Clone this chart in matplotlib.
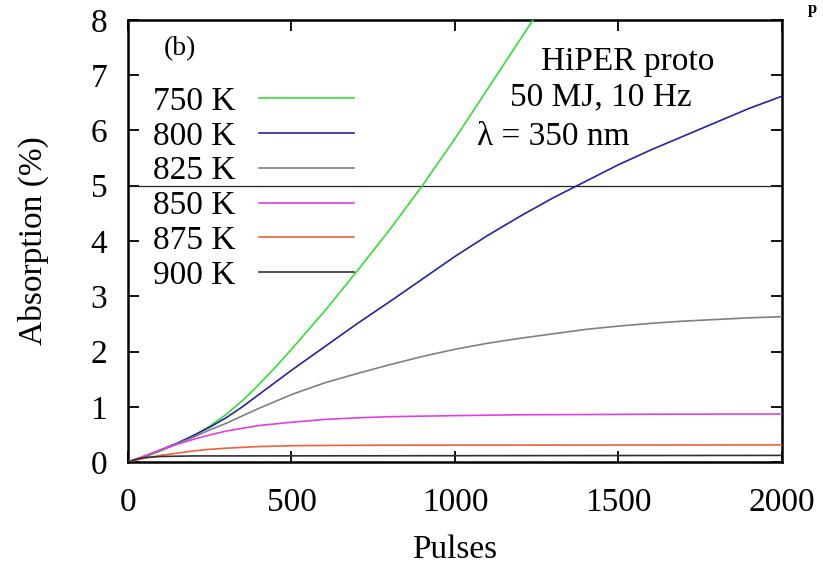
import matplotlib
matplotlib.use("Agg")
import matplotlib.pyplot as plt

plt.rcParams['font.family'] = ['Liberation Serif', 'DejaVu Serif']

# ---- data (pulses vs absorption %) ----
x_750 = [0, 50, 100, 150, 200, 250, 300, 350, 400, 450, 500, 600, 700, 800,
         900, 1000, 1100, 1200, 1250]
y_750 = [0, 0.09, 0.2, 0.33, 0.47, 0.65, 0.86, 1.11, 1.4, 1.71, 2.04, 2.72,
         3.45, 4.2, 5.0, 5.85, 6.75, 7.65, 8.1]

x_800 = [0, 50, 100, 150, 200, 250, 300, 350, 400, 450, 500, 600, 700, 800,
         900, 1000, 1100, 1200, 1300, 1400, 1500, 1600, 1700, 1800, 1900, 2000]
y_800 = [0, 0.1, 0.22, 0.34, 0.48, 0.63, 0.8, 1.0, 1.22, 1.44, 1.66, 2.08,
         2.5, 2.9, 3.31, 3.72, 4.1, 4.45, 4.78, 5.08, 5.38, 5.65, 5.9, 6.15,
         6.4, 6.62]

x_825 = [0, 50, 100, 150, 200, 250, 300, 400, 500, 600, 700, 800, 900, 1000,
         1100, 1200, 1300, 1400, 1500, 1600, 1700, 1800, 1900, 2000]
y_825 = [0, 0.1, 0.21, 0.33, 0.45, 0.58, 0.7, 0.97, 1.22, 1.43, 1.6, 1.76,
         1.91, 2.04, 2.15, 2.24, 2.32, 2.4, 2.46, 2.51, 2.55, 2.58, 2.61, 2.63]

x_850 = [0, 50, 100, 150, 200, 250, 300, 400, 500, 600, 700, 800, 900,
         1000, 1200, 1400, 1600, 2000]
y_850 = [0, 0.11, 0.22, 0.32, 0.41, 0.49, 0.56, 0.66, 0.72, 0.77, 0.8, 0.82,
         0.83, 0.84, 0.855, 0.86, 0.865, 0.87]

x_875 = [0, 50, 100, 150, 200, 250, 300, 400, 500, 600, 800, 2000]
y_875 = [0, 0.07, 0.12, 0.16, 0.2, 0.23, 0.25, 0.28, 0.295, 0.3, 0.305, 0.31]

x_900 = [0, 25, 50, 100, 150, 200, 2000]
y_900 = [0, 0.05, 0.08, 0.1, 0.105, 0.11, 0.12]

labels = ["750 K", "800 K", "825 K", "850 K", "875 K", "900 K"]
colors = ["#33dd33", "#2424a0", "#808080", "#e040e0", "#ee6040", "#303030"]
series = [(x_750, y_750), (x_800, y_800), (x_825, y_825),
          (x_850, y_850), (x_875, y_875), (x_900, y_900)]

threshold = 5

fig = plt.figure(figsize=(8.23, 5.66), dpi=100)
ax = fig.add_axes([0.1555, 0.1837, 0.7945, 0.781])

for (xs, ys), lab, col in zip(series, labels, colors):
    ax.plot(xs, ys, color=col, lw=1.2, label=lab, zorder=3)

ax.axhline(threshold, color="#222222", lw=0.9, zorder=2)

ax.set_xlim(0, 2000)
ax.set_ylim(0, 8)
ax.set_xticks([0, 500, 1000, 1500, 2000])
ax.set_yticks(range(0, 9))
ax.tick_params(direction="in", length=8, width=1.3, top=True, right=True,
               labelsize=24)
ax.tick_params(axis="x", pad=18)
ax.tick_params(axis="y", pad=15)
for sp in ax.spines.values():
    sp.set_linewidth(1.8)

ax.set_xlabel("Pulses", fontsize=24, labelpad=12)
ax.set_ylabel("Absorption (%)", fontsize=24, labelpad=30)

ax.legend(loc="upper left", bbox_to_anchor=(0.003, 0.903), markerfirst=False,
          frameon=False, fontsize=24, handlelength=2.85, handletextpad=0.7,
          labelspacing=0.13, borderaxespad=0.3)

ax.text(0.055, 0.935, "(b)", transform=ax.transAxes, fontsize=20,
        ha="left", va="center")
ax.text(1527, 7.25, "HiPER proto", fontsize=24, ha="center", va="center")
ax.text(1445, 6.6, "50 MJ, 10 Hz", fontsize=24, ha="center", va="center")
ax.text(1301, 5.89, "λ = 350 nm", fontsize=24, ha="center", va="center")

# heading letter visible in the top-right corner of the scan
fig.text(0.982, 0.999, "p", fontsize=12, fontweight="bold",
         ha="left", va="top")

fig.savefig("out.png", dpi=100)
